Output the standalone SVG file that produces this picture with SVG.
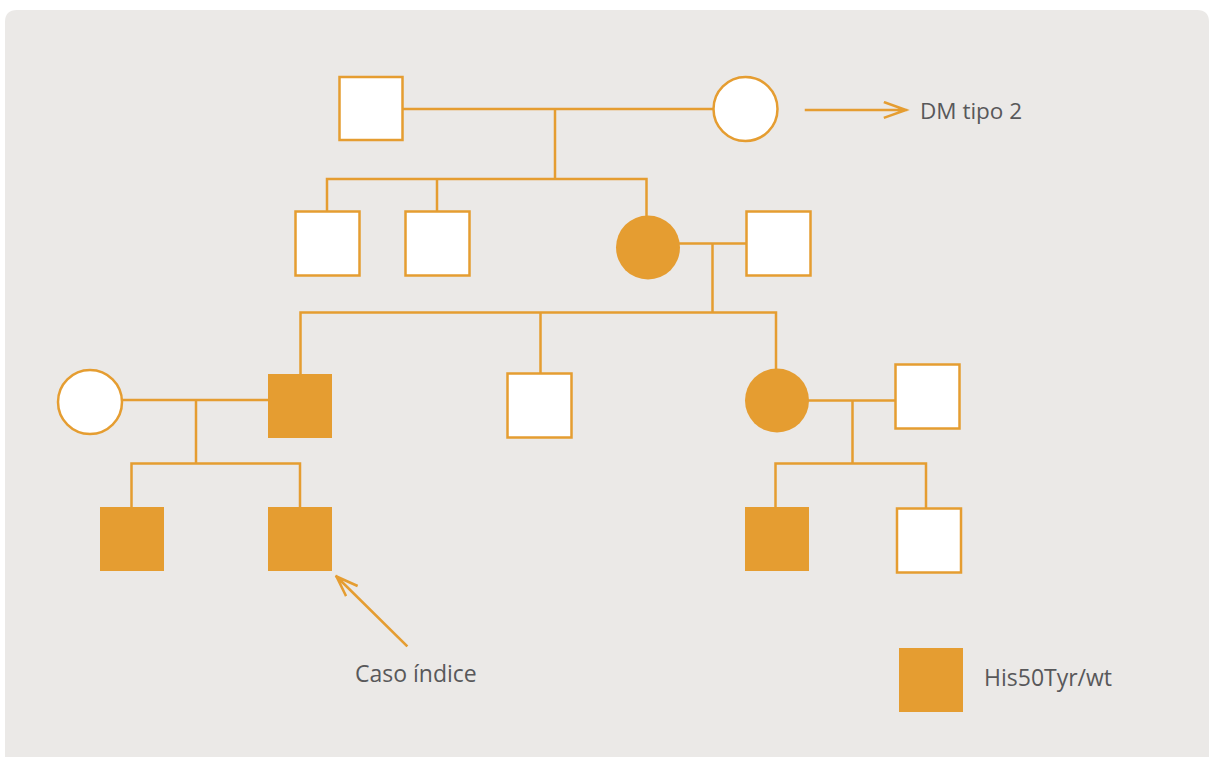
<svg xmlns="http://www.w3.org/2000/svg" width="1209" height="758" viewBox="0 0 1209 758">
<style>
.ln{stroke:#E59D31;stroke-width:2.5;fill:none;stroke-linecap:square}
.open{fill:#fff;stroke:#E59D31;stroke-width:2.5}
.aff{fill:#E59D31;stroke:none}
.lbl{font-family:"Open Sans","DejaVu Sans",sans-serif;font-size:23px;fill:#58585a}
</style>
<path d="M5,757 V22 Q5,10 17,10 H1197 Q1209,10 1209,22 V757 Z" fill="#EBE9E7"/>
<g id="connectors">
<path class="ln" d="M403,109 H713 M555,109 V179 M327,179 H646.5 M327,179 V211 M437,179 V211 M646.5,179 V215"/>
<path class="ln" d="M680,243.5 H746 M712.5,243.5 V312.5 M300.5,312.5 H776 M300.5,312.5 V374 M540.5,312.5 V373.5 M776,312.5 V369"/>
<path class="ln" d="M122,400 H268 M196,400 V463.5 M131.5,463.5 H300 M131.5,463.5 V507 M300,463.5 V507"/>
<path class="ln" d="M808,400.5 H895 M852.5,400.5 V463.5 M775.5,463.5 H926 M775.5,463.5 V507 M926,463.5 V508"/>
<path class="ln" d="M806,110 H906 M885,102.5 L906,110 L885,117.5"/>
<path class="ln" d="M406.5,645.5 L336.5,576.5 M356.5,585.5 L336.5,576.5 M345.5,595 L336.5,576.5"/>
</g>
<g id="n1"><rect class="open" x="339.5" y="77" width="63" height="63"/></g>
<g id="n2"><circle class="open" cx="745.5" cy="109" r="32"/></g>
<g id="n3"><rect class="open" x="295.5" y="211.5" width="64" height="64"/></g>
<g id="n4"><rect class="open" x="405.5" y="211.5" width="64" height="64"/></g>
<g id="n5"><circle class="aff" cx="648" cy="247.5" r="32"/></g>
<g id="n6"><rect class="open" x="746.5" y="211.5" width="64" height="64"/></g>
<g id="n7"><circle class="open" cx="90" cy="402" r="32"/></g>
<g id="n8"><rect class="aff" x="268" y="374" width="64" height="64"/></g>
<g id="n9"><rect class="open" x="507.5" y="373.5" width="64" height="64"/></g>
<g id="n10"><circle class="aff" cx="777" cy="400.5" r="32"/></g>
<g id="n11"><rect class="open" x="895.5" y="364.5" width="64" height="64"/></g>
<g id="n12"><rect class="aff" x="100" y="507" width="64" height="64"/></g>
<g id="n13"><rect class="aff" x="268" y="507" width="64" height="64"/></g>
<g id="n14"><rect class="aff" x="745" y="507" width="64" height="64"/></g>
<g id="n15"><rect class="open" x="897" y="508.5" width="64" height="64"/></g>
<g id="legend">
<rect class="aff" x="899" y="648" width="64" height="64"/>
<text class="lbl" x="984" y="686">His50Tyr/wt</text>
</g>
<g id="labels">
<text class="lbl" x="920" y="119" style="font-size:22.5px">DM tipo 2</text>
<text class="lbl" x="355" y="682">Caso índice</text>
</g>
</svg>
